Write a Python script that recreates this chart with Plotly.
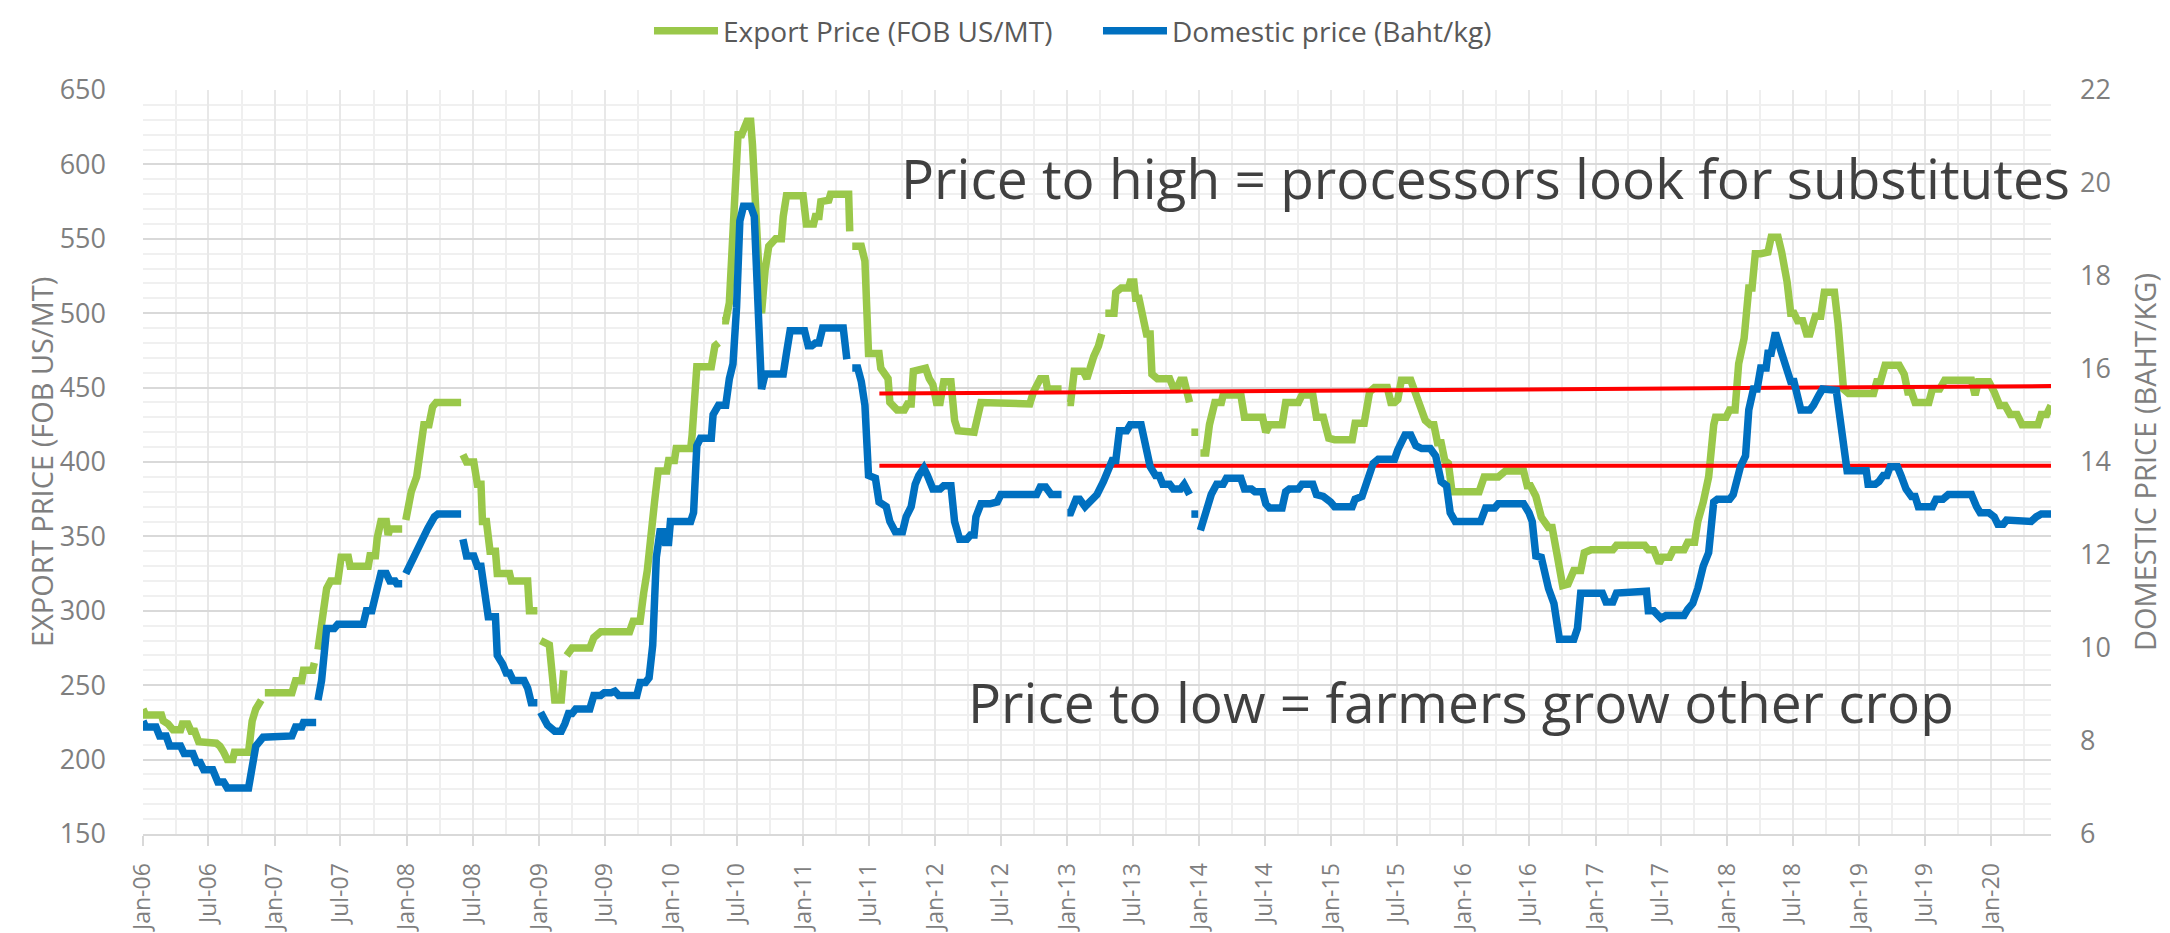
import plotly.graph_objects as go

# ---------------- data ----------------
export_dates = [
"2006-01-01","2006-01-08","2006-02-21","2006-02-26","2006-03-11","2006-03-25","2006-04-15","2006-04-20","2006-05-05","2006-05-14",
"2006-05-24","2006-06-04","2006-07-23","2006-08-02","2006-08-12","2006-08-22","2006-09-06","2006-09-11","2006-10-20","2006-10-30",
"2006-11-09","2006-11-24","2006-11-29","2006-12-04","2007-02-17","2007-02-27","2007-03-16","2007-03-21","2007-04-15","2007-04-20",
"2007-04-25","2007-04-30","2007-05-15","2007-05-24","2007-06-04","2007-06-24","2007-07-03","2007-07-23","2007-07-28","2007-09-16",
"2007-09-21","2007-10-06","2007-10-11","2007-10-21","2007-11-05","2007-11-10","2007-11-15","2007-12-19","2007-12-24","2007-12-29",
"2008-01-13","2008-01-28","2008-02-07","2008-02-17","2008-03-02","2008-03-12","2008-03-22","2008-05-30","2008-06-01","2008-06-04",
"2008-06-14","2008-07-04","2008-07-14","2008-07-24","2008-07-28","2008-08-08","2008-08-18","2008-09-02","2008-09-07","2008-10-11",
"2008-10-16","2008-11-30","2008-12-05","2008-12-27","2008-12-31","2009-01-05","2009-01-29","2009-02-13","2009-03-03","2009-03-10",
"2009-03-14","2009-03-18","2009-04-02","2009-05-21","2009-06-01","2009-06-20","2009-09-08","2009-09-18","2009-10-07","2009-10-17",
"2009-10-27","2009-11-16","2009-11-26","2009-12-20","2009-12-25","2010-01-10","2010-01-15","2010-02-24","2010-02-28","2010-03-13",
"2010-04-22","2010-05-02","2010-05-12","2010-05-17","2010-05-22","2010-06-01","2010-06-11","2010-06-21","2010-07-05","2010-07-15",
"2010-07-30","2010-08-09","2010-08-14","2010-08-29","2010-09-08","2010-09-18","2010-09-28","2010-10-17","2010-11-02","2010-11-07",
"2010-11-16","2011-01-01","2011-01-10","2011-01-30","2011-02-04","2011-02-14","2011-02-19","2011-03-13","2011-03-18","2011-05-07",
"2011-05-10","2011-05-13","2011-05-17","2011-06-11","2011-06-21","2011-07-01","2011-07-30","2011-08-04","2011-08-24","2011-08-29",
"2011-09-18","2011-10-08","2011-10-17","2011-10-27","2011-11-02","2011-12-06","2011-12-16","2011-12-26","2012-01-05","2012-01-15",
"2012-01-25","2012-02-14","2012-02-24","2012-03-04","2012-04-18","2012-04-28","2012-05-07","2012-09-19","2012-09-29","2012-10-18",
"2012-11-02","2012-11-07","2012-12-16","2012-12-24","2013-01-01","2013-01-10","2013-01-20","2013-02-14","2013-02-24","2013-03-04",
"2013-03-15","2013-03-28","2013-04-06","2013-04-11","2013-04-16","2013-05-10","2013-05-15","2013-05-30","2013-06-19","2013-06-24",
"2013-07-04","2013-07-09","2013-07-18","2013-07-28","2013-08-08","2013-08-18","2013-08-23","2013-09-07","2013-10-11","2013-10-21",
"2013-11-01","2013-11-10","2013-11-20","2013-12-05","2013-12-07","2013-12-10","2013-12-29","2014-01-01","2014-01-04","2014-01-19",
"2014-01-29","2014-02-13","2014-03-03","2014-03-08","2014-04-26","2014-05-06","2014-06-25","2014-07-04","2014-07-14","2014-08-18",
"2014-08-28","2014-10-02","2014-10-12","2014-11-11","2014-11-21","2014-12-10","2014-12-25","2015-01-10","2015-02-28","2015-03-08",
"2015-04-02","2015-04-17","2015-05-01","2015-06-05","2015-06-15","2015-06-25","2015-07-04","2015-07-14","2015-08-09","2015-08-19",
"2015-09-03","2015-09-18","2015-10-02","2015-10-12","2015-10-22","2015-11-01","2015-11-11","2015-11-21","2015-12-01","2016-02-14",
"2016-02-28","2016-04-07","2016-04-27","2016-06-16","2016-06-26","2016-07-05","2016-07-20","2016-08-04","2016-08-24","2016-09-03",
"2016-09-18","2016-10-02","2016-10-17","2016-11-02","2016-11-21","2016-12-01","2016-12-20","2017-02-18","2017-02-28","2017-05-17",
"2017-05-27","2017-06-11","2017-06-26","2017-07-05","2017-07-25","2017-08-04","2017-09-03","2017-09-13","2017-10-02","2017-10-11",
"2017-10-26","2017-11-10","2017-11-24","2017-11-29","2017-12-28","2018-01-07","2018-01-22","2018-02-01","2018-02-16","2018-03-01",
"2018-03-10","2018-03-19","2018-04-03","2018-04-23","2018-05-02","2018-05-21","2018-05-31","2018-06-15","2018-06-25","2018-07-04",
"2018-07-14","2018-07-28","2018-08-08","2018-08-17","2018-09-01","2018-09-16","2018-09-26","2018-10-24","2018-11-03","2018-11-18",
"2018-12-02","2019-02-09","2019-02-18","2019-02-28","2019-03-13","2019-04-21","2019-05-05","2019-05-15","2019-05-25","2019-06-04",
"2019-07-12","2019-07-22","2019-08-11","2019-08-25","2019-11-07","2019-11-17","2019-11-26","2019-12-25","2020-01-09","2020-01-24",
"2020-02-08","2020-02-22","2020-03-12","2020-03-26","2020-05-09","2020-05-18","2020-06-02","2020-06-14"]
export_values = [
234,230,230,226,224,220,220,224,224,219,
219,212,211,209,205,200,200,205,205,226,
234,240,None,245,245,253,253,260,260,265,
None,274,305,315,320,320,336,336,330,330,
337,337,349,360,360,351,355,355,None,361,
380,390,404,425,425,437,440,440,None,405,
400,400,385,385,360,360,340,340,325,325,
320,320,300,300,None,280,277,240,240,260,
None,270,275,275,282,286,286,293,293,312,
327,373,394,394,401,401,409,409,418,464,
464,478,480,None,495,495,507,552,620,620,
629,629,613,541,500,529,545,550,550,565,
579,579,560,560,565,565,575,576,580,580,
555,None,545,545,535,473,473,463,456,440,
435,435,439,439,461,463,456,452,440,440,
454,454,428,421,420,432,440,439,447,456,
456,449,449,None,440,440,461,461,456,463,
471,478,486,None,500,500,514,517,517,521,
521,510,510,500,486,486,459,456,456,450,
450,455,455,440,None,420,420,None,406,406,
425,440,440,445,445,430,430,420,425,425,
440,440,445,445,430,430,416,415,415,426,
426,447,450,450,440,440,442,455,455,449,
437,428,425,425,413,413,401,399,380,380,
390,390,394,394,384,384,377,363,356,356,
336,317,318,327,327,339,341,341,344,344,
341,341,332,336,336,341,341,346,346,360,
373,390,425,430,430,435,435,466,483,517,
517,540,540,541,551,551,541,521,500,500,
495,495,486,486,498,498,514,514,493,449,
446,446,454,454,465,465,459,447,447,440,
440,449,449,455,455,445,454,454,447,438,
438,432,432,425,425,432,432,438]

domestic_dates = [
"2006-01-01","2006-01-08","2006-02-06","2006-02-16","2006-03-06","2006-03-16","2006-04-15","2006-04-25","2006-05-19","2006-05-29",
"2006-06-08","2006-06-18","2006-07-13","2006-07-27","2006-08-12","2006-08-22","2006-10-20","2006-10-30","2006-11-09","2006-11-29",
"2006-12-18","2006-12-28","2007-02-17","2007-02-27","2007-03-16","2007-03-21","2007-04-25","2007-04-28","2007-04-30","2007-05-10",
"2007-05-24","2007-06-14","2007-06-24","2007-09-02","2007-09-11","2007-09-26","2007-10-06","2007-10-21","2007-11-05","2007-11-15",
"2007-11-29","2007-12-04","2007-12-19","2007-12-24","2007-12-29","2008-01-18","2008-02-07","2008-02-27","2008-03-17","2008-03-27",
"2008-05-30","2008-06-01","2008-06-04","2008-06-14","2008-07-04","2008-07-14","2008-07-24","2008-08-03","2008-08-13","2008-09-02",
"2008-09-07","2008-09-22","2008-10-02","2008-10-11","2008-10-21","2008-11-20","2008-11-30","2008-12-10","2008-12-27","2008-12-31",
"2009-01-05","2009-01-24","2009-02-13","2009-03-03","2009-03-13","2009-03-23","2009-04-02","2009-04-12","2009-05-21","2009-06-01",
"2009-06-20","2009-06-30","2009-07-19","2009-07-29","2009-08-09","2009-09-28","2009-10-07","2009-10-22","2009-11-01","2009-11-11",
"2009-11-21","2009-12-01","2009-12-11","2009-12-16","2009-12-25","2009-12-30","2010-02-24","2010-03-04","2010-03-13","2010-03-23",
"2010-04-22","2010-04-27","2010-05-12","2010-06-01","2010-06-11","2010-06-21","2010-07-01","2010-07-10","2010-07-20","2010-08-09",
"2010-08-19","2010-08-29","2010-09-08","2010-09-18","2010-11-07","2010-11-16","2010-11-26","2011-01-05","2011-01-15","2011-01-25",
"2011-02-04","2011-02-14","2011-02-24","2011-04-22","2011-04-27","2011-05-02","2011-05-10","2011-05-17","2011-06-01","2011-06-11",
"2011-06-21","2011-07-01","2011-07-20","2011-07-30","2011-08-19","2011-08-29","2011-09-13","2011-10-03","2011-10-13","2011-10-27",
"2011-11-07","2011-11-17","2011-12-01","2011-12-11","2011-12-26","2012-01-15","2012-01-25","2012-02-14","2012-02-24","2012-03-09",
"2012-03-29","2012-04-08","2012-04-18","2012-04-23","2012-05-07","2012-06-01","2012-06-11","2012-06-21","2012-07-01","2012-10-08",
"2012-10-18","2012-11-02","2012-11-17","2012-12-16","2012-12-24","2013-01-01","2013-01-10","2013-01-25","2013-02-04","2013-02-19",
"2013-03-04","2013-03-24","2013-04-11","2013-04-21","2013-05-05","2013-05-15","2013-05-25","2013-06-14","2013-06-24","2013-07-24",
"2013-08-03","2013-08-18","2013-09-02","2013-09-12","2013-09-22","2013-10-11","2013-10-21","2013-11-10","2013-11-20","2013-12-05",
"2013-12-07","2013-12-10","2013-12-29","2014-01-01","2014-01-04","2014-01-19","2014-02-03","2014-02-18","2014-03-08","2014-03-17",
"2014-04-26","2014-05-06","2014-05-25","2014-06-04","2014-06-25","2014-07-04","2014-07-14","2014-08-18","2014-08-28","2014-09-07",
"2014-10-02","2014-10-12","2014-11-11","2014-11-21","2014-12-10","2014-12-30","2015-01-10","2015-02-28","2015-03-08","2015-03-27",
"2015-04-17","2015-04-27","2015-05-11","2015-06-25","2015-07-04","2015-07-24","2015-08-09","2015-08-23","2015-09-08","2015-10-02",
"2015-10-17","2015-11-01","2015-11-16","2015-11-26","2015-12-10","2016-02-18","2016-03-03","2016-03-28","2016-04-07","2016-06-16",
"2016-07-01","2016-07-10","2016-07-20","2016-08-04","2016-08-24","2016-09-08","2016-09-23","2016-11-02","2016-11-12","2016-11-21",
"2017-01-20","2017-01-30","2017-02-18","2017-02-28","2017-05-22","2017-05-27","2017-06-11","2017-06-21","2017-07-01","2017-07-15",
"2017-09-03","2017-09-13","2017-09-27","2017-10-11","2017-10-26","2017-11-10","2017-11-24","2017-12-04","2018-01-07","2018-01-17",
"2018-01-27","2018-02-06","2018-02-20","2018-03-01","2018-03-14","2018-03-24","2018-04-03","2018-04-18","2018-04-23","2018-05-02",
"2018-05-12","2018-05-16","2018-05-31","2018-06-15","2018-06-25","2018-07-04","2018-07-14","2018-07-23","2018-08-17","2018-08-27",
"2018-09-11","2018-09-21","2018-10-29","2018-11-13","2018-11-28","2019-01-20","2019-01-25","2019-02-14","2019-02-24","2019-03-08",
"2019-03-18","2019-03-27","2019-04-16","2019-04-26","2019-05-10","2019-05-25","2019-06-04","2019-06-13","2019-07-22","2019-08-01",
"2019-08-20","2019-09-04","2019-11-07","2019-11-21","2019-12-01","2019-12-25","2020-01-09","2020-01-19","2020-02-03","2020-02-12",
"2020-03-02","2020-03-12","2020-04-20","2020-05-04","2020-05-18","2020-06-14"]
domestic_values = [
8.43,8.30,8.30,8.11,8.11,7.89,7.89,7.73,7.73,7.54,
7.54,7.38,7.38,7.12,7.12,6.99,6.99,7.54,7.89,8.08,
8.08,8.11,8.11,8.30,8.30,8.40,8.40,None,8.88,9.30,
10.42,10.42,10.51,10.51,10.80,10.80,11.12,11.60,11.60,11.44,
11.44,11.38,11.38,None,11.60,11.95,12.21,12.56,12.82,12.88,
12.88,None,12.34,11.98,11.98,11.76,11.76,11.06,10.67,10.67,
9.84,9.65,9.46,9.46,9.30,9.30,9.14,8.82,8.82,None,
8.62,8.34,8.21,8.21,8.37,8.59,8.59,8.69,8.69,8.98,
8.98,9.04,9.04,9.07,8.98,8.98,9.26,9.26,9.36,10.06,
11.95,12.50,12.50,12.27,12.27,12.72,12.72,12.91,14.35,14.51,
14.51,15.02,15.22,15.22,15.79,16.11,17.33,19.18,19.50,19.50,
19.28,17.42,15.57,15.89,15.89,16.34,16.82,16.82,16.50,16.50,
16.56,16.56,16.88,16.88,16.21,16.21,None,16.02,16.02,15.73,
15.22,13.71,13.65,13.14,13.04,12.72,12.50,12.50,12.82,13.04,
13.52,13.71,13.87,13.71,13.42,13.42,13.49,13.49,12.72,12.34,
12.34,12.43,12.43,12.82,13.10,13.10,13.14,13.14,13.30,13.30,
13.46,13.46,13.30,13.30,None,12.91,12.91,13.20,13.20,13.04,
13.14,13.30,13.58,13.81,14.03,14.03,14.67,14.67,14.80,14.80,
14.45,13.90,13.71,13.71,13.52,13.52,13.42,13.42,13.52,13.30,
None,12.88,12.88,None,12.53,12.91,13.30,13.52,13.52,13.65,
13.65,13.42,13.42,13.36,13.36,13.10,13.01,13.01,13.36,13.42,
13.42,13.52,13.52,13.30,13.26,13.14,13.04,13.04,13.20,13.26,
13.81,13.97,14.06,14.06,14.26,14.58,14.58,14.35,14.29,14.29,
14.13,13.58,13.49,12.91,12.72,12.72,13.01,13.01,13.10,13.10,
12.91,12.72,11.98,11.95,11.28,10.96,10.19,10.19,10.42,11.18,
11.18,10.99,10.99,11.18,11.22,10.80,10.80,10.74,10.64,10.70,
10.70,10.83,10.96,11.28,11.76,12.05,13.14,13.20,13.20,13.30,
13.58,13.90,14.13,15.12,15.57,15.57,16.02,16.02,16.34,16.34,
16.72,16.72,16.34,15.89,15.73,15.73,15.44,15.12,15.12,15.22,
15.44,15.57,15.54,14.80,13.81,13.81,13.52,13.52,13.58,13.71,
13.71,13.90,13.90,13.71,13.42,13.26,13.26,13.04,13.04,13.20,
13.20,13.30,13.30,13.04,12.91,12.91,12.82,12.66,12.66,12.75,
12.75,12.72,12.72,12.82,12.88,12.88]

# reference lines drawn on the chart (export-price axis units)
high_band_dates = ["2011-07-31", "2020-06-14"]
high_band_values = [446, 451]
low_band_dates = ["2011-07-31", "2020-06-14"]
low_band_values = [397.5, 397.5]

x_range = ["2006-01-01", "2020-06-14"]
left_range = [150, 650]
right_range = [6, 22]

label_high = "Price to high = processors look for substitutes"
label_low = "Price to low = farmers grow other crop"

GREEN = "#9AC84A"
BLUE = "#0070C0"
RED = "#FF0000"
TICK = "#7F7F7F"
FONT = "Open Sans"

fig = go.Figure()
fig.add_trace(go.Scatter(x=export_dates, y=export_values, name="Export Price (FOB US/MT)",
                         mode="lines", line=dict(color=GREEN, width=7.5), connectgaps=False))
fig.add_trace(go.Scatter(x=domestic_dates, y=domestic_values, name="Domestic price (Baht/kg)",
                         mode="lines", line=dict(color=BLUE, width=7.5), connectgaps=False, yaxis="y2"))
fig.add_trace(go.Scatter(x=high_band_dates, y=high_band_values, mode="lines", showlegend=False,
                         line=dict(color=RED, width=4), hoverinfo="skip"))
fig.add_trace(go.Scatter(x=low_band_dates, y=low_band_values, mode="lines", showlegend=False,
                         line=dict(color=RED, width=4), hoverinfo="skip"))

fig.update_layout(
    width=2170, height=933,
    margin=dict(l=135, r=127, t=82, b=107, autoexpand=False),
    paper_bgcolor="white", plot_bgcolor="white",
    font=dict(family=FONT, color=TICK),
    showlegend=True,
    legend=dict(orientation="h", xref="container", yref="container", x=0.5023, xanchor="center",
                y=1 - 23 / 933, yanchor="middle",
                font=dict(size=28, color="#595959", family=FONT), itemwidth=64,
                entrywidth=370, entrywidthmode="pixels"),
    xaxis=dict(type="date", range=x_range, dtick="M6", tick0="2006-01-01", tickformat="%b-%y",
               tickangle=-90, tickfont=dict(size=23, color=TICK, family=FONT),
               showgrid=True, gridcolor="#E8E8E8", gridwidth=1.5,
               minor=dict(dtick="M3", showgrid=True, gridcolor="#EFEFEF", gridwidth=1.5),
               showline=True, linecolor="#D9D9D9", linewidth=2,
               ticks="outside", ticklen=10, tickcolor="#D9D9D9", tickwidth=1.5,
               ticklabelstandoff=8, zeroline=False, automargin=False),
    yaxis=dict(range=left_range, dtick=50, tick0=150, tickfont=dict(size=27, color=TICK, family=FONT),
               showgrid=True, gridcolor="#D9D9D9", gridwidth=2,
               minor=dict(dtick=10, showgrid=True, gridcolor="#F0F0F0", gridwidth=1.5),
               zeroline=False, ticks="", ticklabelstandoff=36, automargin=False),
    yaxis2=dict(range=right_range, dtick=2, tick0=6, overlaying="y", side="right",
                tickfont=dict(size=27, color=TICK, family=FONT), showgrid=False, zeroline=False,
                ticks="", ticklabelstandoff=28, automargin=False),
)

fig.add_annotation(text="EXPORT PRICE (FOB US/MT)", xref="paper", yref="paper", x=(33 - 135) / 1908, y=0.5,
                   xanchor="center", yanchor="middle",
                   textangle=-90, showarrow=False, font=dict(size=29, color=TICK, family=FONT))
fig.add_annotation(text="DOMESTIC PRICE (BAHT/KG)", xref="paper", yref="paper", x=(2136 - 135) / 1908, y=0.5,
                   xanchor="center", yanchor="middle",
                   textangle=-90, showarrow=False, font=dict(size=29, color=TICK, family=FONT))
fig.add_annotation(text=label_high, xref="paper", yref="paper", x=(1477 - 135) / 1908, y=(826 - 169) / 744,
                   xanchor="center", yanchor="middle",
                   showarrow=False, font=dict(size=55, color="#404040", family=FONT))
fig.add_annotation(text=label_low, xref="paper", yref="paper", x=(1453 - 135) / 1908, y=(826 - 693) / 744,
                   xanchor="center", yanchor="middle",
                   showarrow=False, font=dict(size=55, color="#404040", family=FONT))

fig.write_html("out.html")
